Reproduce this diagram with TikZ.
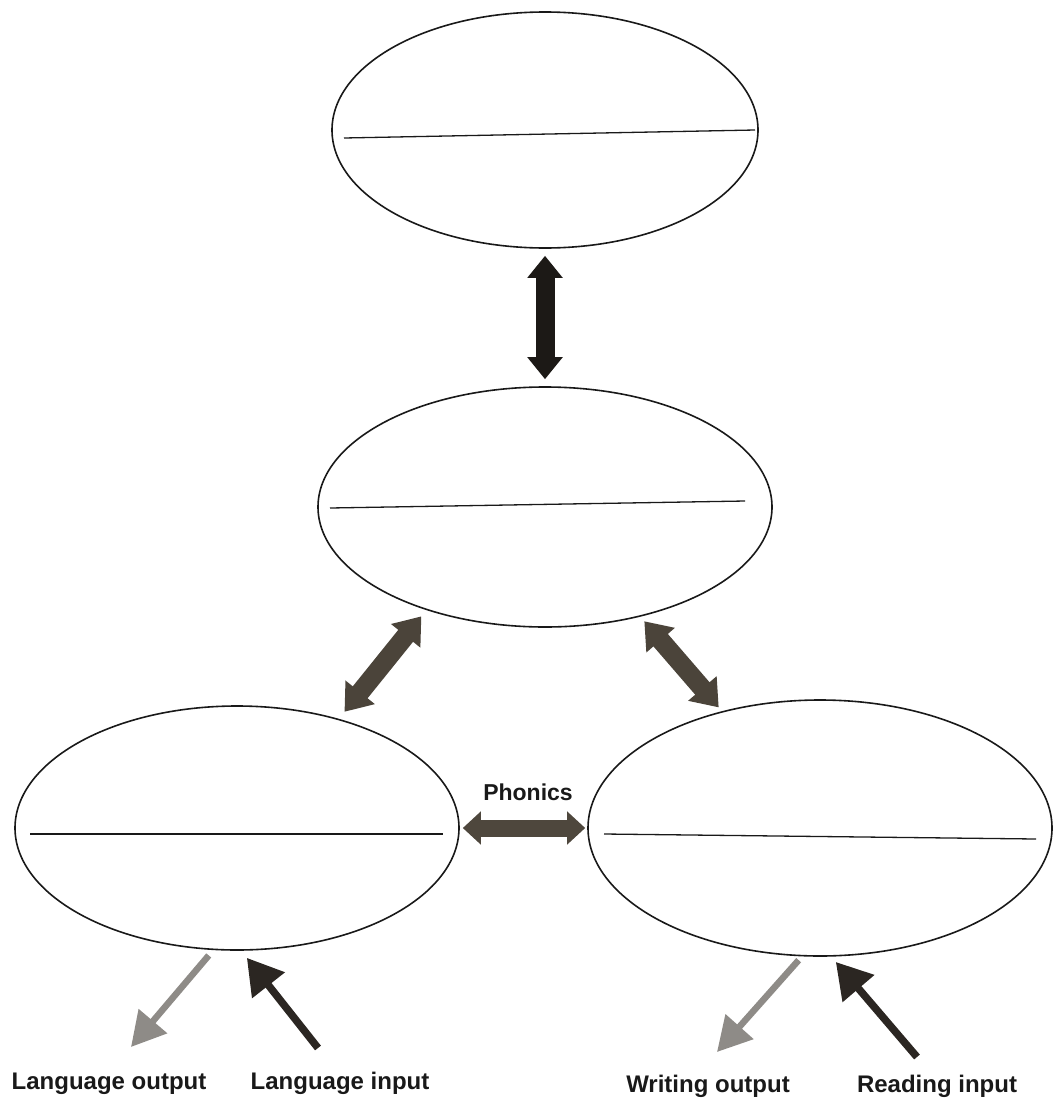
\documentclass[tikz,border=0pt]{standalone}
\usepackage{fontspec}
\setmainfont{Liberation Sans}
\usetikzlibrary{shapes.geometric,arrows.meta}
\definecolor{vblack}{HTML}{1C1916}
\definecolor{diag}{HTML}{4B443A}
\definecolor{phon}{HTML}{4E473D}
\definecolor{outgray}{HTML}{8E8B87}
\definecolor{inblack}{HTML}{2B2622}
\begin{document}
\begin{tikzpicture}[x=1pt,y=-1pt,
  oval/.style={draw=black!90, line width=1.6pt, ellipse, inner sep=0pt},
  midline/.style={draw=black!90, line width=1.3pt},
  bigtips/.style={line width=19pt,
    {Triangle[length=22pt,width=34pt]}-{Triangle[length=22pt,width=34pt]}},
  vertarrow/.style={bigtips, draw=vblack},
  diagarrow/.style={line width=19pt, draw=diag,
    {Triangle[length=25pt,width=36pt]}-{Triangle[length=25pt,width=36pt]}},
  phonarrow/.style={line width=17pt, draw=phon,
    {Triangle[length=18pt,width=32pt]}-{Triangle[length=18pt,width=32pt]}},
  outarrow/.style={line width=6.5pt, draw=outgray,
    -{Triangle[length=34pt,width=36pt]}},
  inarrow/.style={line width=7.5pt, draw=inblack,
    -{Triangle[length=35pt,width=40pt]}},
  lbl/.style={font=\fontsize{24pt}{28pt}\selectfont\bfseries, text=black!90, inner sep=0pt, anchor=base}
]
\useasboundingbox (0,0) rectangle (1054,1111);

% ellipses
\node[oval, minimum width=426pt, minimum height=236pt] (top) at (545,130) {};
\node[oval, minimum width=454pt, minimum height=240pt] (mid) at (545,507) {};
\node[oval, minimum width=444pt, minimum height=244pt] (left) at (237,828) {};
\node[oval, minimum width=464pt, minimum height=256pt] (right) at (820,828) {};

% blank lines inside ellipses
\draw[midline] (344,138) -- (755,130);
\draw[midline] (330,508) -- (745,501);
\draw[midline] (30,834) -- (443,834);
\draw[midline] (604,834) -- (1036,839);

% connectors between ellipses
\draw[vertarrow, shorten <=7pt, shorten >=7pt] (top.south) -- (mid.north);
\draw[diagarrow, shorten <=8pt, shorten >=9pt] (mid.221.6) -- (left.47.2);
\draw[diagarrow, shorten <=6pt, shorten >=5pt] (mid.311.8) -- (right.130.7);
\draw[phonarrow, shorten <=3pt, shorten >=2pt] (left.east) -- (right.west);
\node[lbl, font=\fontsize{23pt}{27pt}\selectfont\bfseries] (phonics) at (528,800) {Phonics};

% input / output arrows
\coordinate (lo) at (131,1047);
\coordinate (li) at (318,1048);
\coordinate (wo) at (717,1052);
\coordinate (ri) at (917,1057);
\draw[outarrow, shorten <=7pt] (left.259.8) -- (lo);
\draw[inarrow, shorten >=9pt] (li) -- (left.272.3);
\draw[outarrow, shorten <=5pt] (right.262.9) -- (wo);
\draw[inarrow, shorten >=7pt] (ri) -- (right.275.8);

% labels
\node[lbl] (lolab) at (109,1089) {Language output};
\node[lbl] (lilab) at (340,1089) {Language input};
\node[lbl] (wolab) at (708,1092) {Writing output};
\node[lbl] (rilab) at (937,1092) {Reading input};
\end{tikzpicture}
\end{document}
